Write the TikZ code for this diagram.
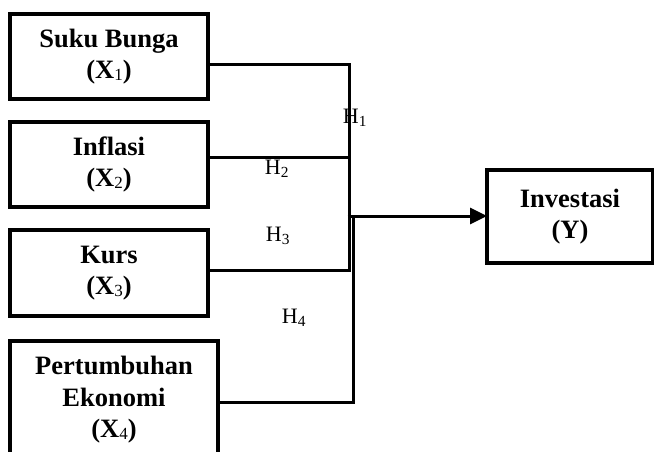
\documentclass[tikz,border=0pt]{standalone}
\usepackage{fontspec}
\setmainfont{Liberation Serif}
\usetikzlibrary{arrows.meta}
\newcommand{\boxsub}[1]{\raisebox{-0.15ex}{\fontsize{17}{17}\selectfont\mdseries #1}}
\begin{document}
\begin{tikzpicture}[x=1pt,y=-1pt,
  varbox/.style={draw,line width=3.2pt,outer sep=0pt,inner sep=0pt,align=center,
    font=\fontsize{26.5}{31.5}\selectfont\bfseries},
  conn/.style={line width=3pt},
  hlabel/.style={inner sep=0pt,font=\fontsize{22}{22}\selectfont}]
\useasboundingbox (0,0) rectangle (654,452);

% variable boxes
\node[varbox,minimum width=198pt,minimum height=85pt] (b1) at (109,56.5) {Suku Bunga\\(X\boxsub{1})};
\node[varbox,minimum width=198pt,minimum height=85pt] (b2) at (109,164.5) {Inflasi\\(X\boxsub{2})};
\node[varbox,minimum width=198pt,minimum height=86pt] (b3) at (109,273) {Kurs\\(X\boxsub{3})};
\node[varbox,minimum width=208pt,minimum height=118pt] (b4) at (114,400) {Pertumbuhan\\Ekonomi\\(X\boxsub{4})};
\node[varbox,minimum width=166pt,minimum height=93pt] (y) at (570,216.5) {Investasi\\(Y)};

% junction points of the connectors
\coordinate (j1) at (349,65);
\coordinate (j2) at (349,157);
\coordinate (j3) at (349,270);
\coordinate (j4) at (353,402);
\coordinate (j5) at (353,216);
\coordinate (ja) at (347.5,216);

\draw[conn] (b1.east |- j1) -- (j1) -- (j3) -- (b3.east |- j3);
\draw[conn] (b2.east |- j2) -- (j2);
\draw[conn] (b4.east |- j4) -- (j4) -- (j5);
\draw[conn,-{Triangle[length=17pt,width=16pt]}] (ja) -- (y.west |- ja);

% hypothesis labels
\node[hlabel] (h1) at (355,118) {H\textsubscript{1}};
\node[hlabel] (h2) at (277,169) {H\textsubscript{2}};
\node[hlabel] (h3) at (278,236) {H\textsubscript{3}};
\node[hlabel] (h4) at (294,318) {H\textsubscript{4}};
\end{tikzpicture}
\end{document}
